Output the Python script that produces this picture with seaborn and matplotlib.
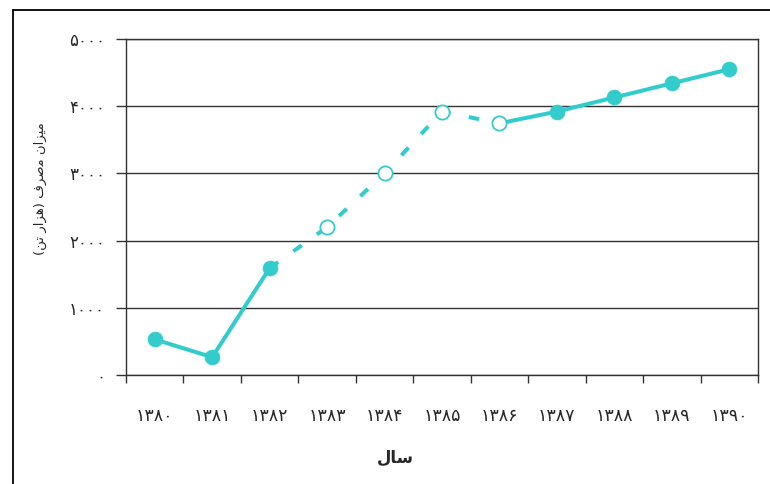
import matplotlib
matplotlib.use("Agg")
import matplotlib.pyplot as plt
import seaborn as sns
import pandas as pd
from matplotlib.lines import Line2D

# ---- data ----
years = ["۱۳۸۰", "۱۳۸۱", "۱۳۸۲", "۱۳۸۳", "۱۳۸۴", "۱۳۸۵",
         "۱۳۸۶", "۱۳۸۷", "۱۳۸۸", "۱۳۸۹", "۱۳۹۰"]
values = [530, 265, 1590, 2200, 3000, 3920, 3745, 3920, 4130, 4340, 4550]
projected = [False, False, False, True, True, True, True, False, False, False, False]
ytick_values = [0, 1000, 2000, 3000, 4000, 5000]
ytick_labels = ["۰", "۱۰۰۰", "۲۰۰۰", "۳۰۰۰", "۴۰۰۰", "۵۰۰۰"]

# pre-shaped (visual order) Persian titles
xlabel_text = "\uFEDD\uFE8E\uFEB3"  # سال
ylabel_text = ("(" + "\uFEE6\uFE97" + " " + "\uFEAD\uFE8D\uFEB0\uFEEB" + ")" + " "
               + "\uFED1\uFEAE\uFEBB\uFEE3" + " "
               + "\uFEE5\uFE8D\uFEB0\uFEF4\uFEE3")  # میزان مصرف (هزار تن)

color = "#33CCCC"

# segments: solid 1380-1382, dashed 1382-1386, solid 1386-1390
rows = []
for i, v in enumerate(values):
    if i <= 2:
        rows.append((i, v, "s1"))
    if 2 <= i <= 6:
        rows.append((i, v, "d"))
    if i >= 6:
        rows.append((i, v, "s2"))
df = pd.DataFrame(rows, columns=["idx", "value", "seg"])
pts = pd.DataFrame({"idx": range(len(values)), "value": values, "proj": projected})

sns.set_style("white")
plt.rcParams["font.family"] = ["DejaVu Sans"]

fig = plt.figure(figsize=(7.7, 4.84), dpi=100)
ax = fig.add_axes([126 / 770, 1 - 375 / 484, (758 - 126) / 770, (375 - 39) / 484])

for lvl, ls in [("s1", "-"), ("d", (0, (2.6, 4.6))), ("s2", "-")]:
    sub = df[df.seg == lvl]
    sns.lineplot(data=sub, x="idx", y="value", ax=ax, color=color, linewidth=2.9,
                 linestyle=ls, estimator=None, legend=False, zorder=3)

filled = pts[~pts.proj]
hollow = pts[pts.proj]
sns.scatterplot(data=filled, x="idx", y="value", ax=ax, color=color, s=115,
                edgecolor=color, linewidth=0.5, zorder=4, legend=False)
sns.scatterplot(data=hollow, x="idx", y="value", ax=ax, color="white", s=105,
                edgecolor=color, linewidth=1.3, zorder=4, legend=False)

ax.set_xlim(-0.5, len(years) - 0.5)
ax.set_ylim(0, 5000)
ax.set_yticks(ytick_values)
ax.set_yticklabels(ytick_labels, fontsize=12)
ax.set_xticks(range(len(years)))
ax.set_xticklabels(years, fontsize=12.5)
ax.set_xticks([i - 0.5 for i in range(len(years) + 1)], minor=True)
ax.tick_params(axis="x", which="major", length=0, pad=23)
ax.tick_params(axis="x", which="minor", length=6, width=1, color="#333333", direction="out", bottom=True)
ax.tick_params(axis="y", which="major", length=7, width=1, color="#333333", direction="out", pad=8, left=True)
ax.set_xlabel("")
ax.set_ylabel("")
ax.yaxis.grid(True, color="#333333", linewidth=1)
ax.set_axisbelow(True)
for sp in ax.spines.values():
    sp.set_color("#333333")
    sp.set_linewidth(1)

fig.text(395 / 770, 1 - 458 / 484, xlabel_text, ha="center", va="center",
         fontsize=12, fontweight="bold")
fig.text(40 / 770, 1 - 189 / 484, ylabel_text, ha="center", va="center",
         rotation=90, fontsize=9.5)

# outer frame
fig.add_artist(Line2D([13 / 770, 13 / 770], [0, 1 - 10 / 484], color="black", linewidth=1.3))
fig.add_artist(Line2D([13 / 770, 1], [1 - 10 / 484, 1 - 10 / 484], color="black", linewidth=1.3))

fig.savefig("out.png", dpi=100)
